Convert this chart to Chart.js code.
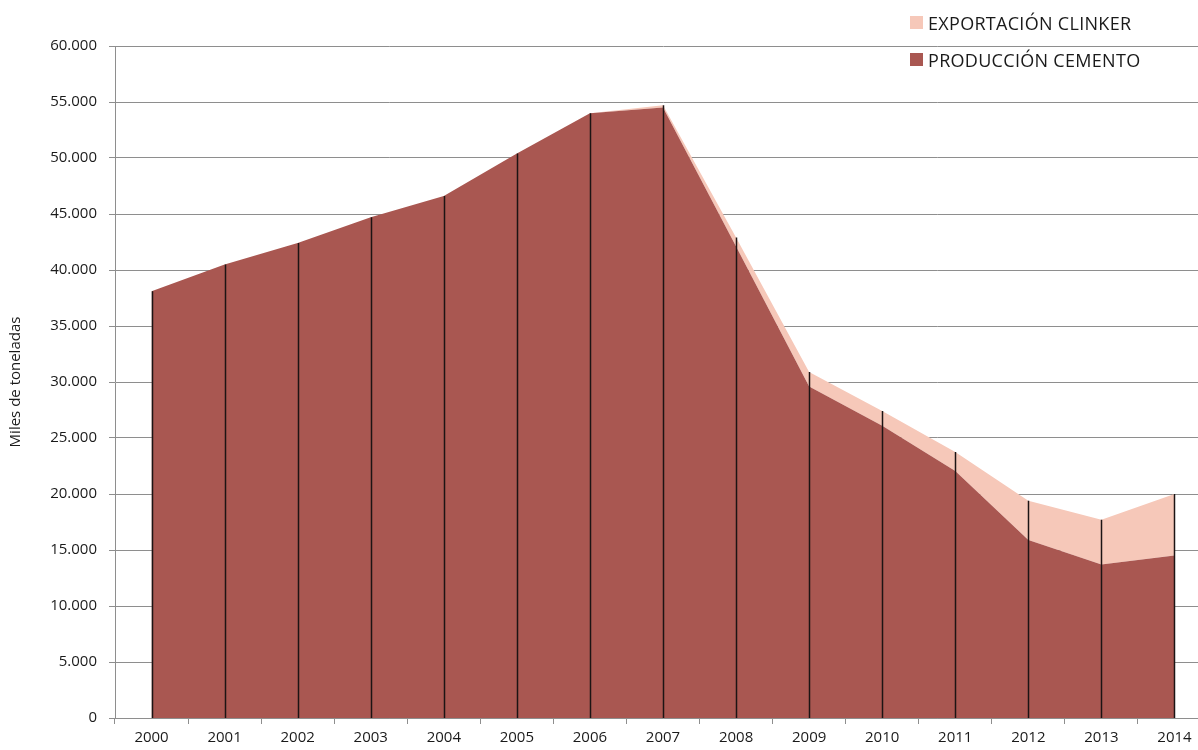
<!DOCTYPE html>
<html>
<head>
<meta charset="utf-8">
<script src="https://cdn.jsdelivr.net/npm/chart.js@4"></script>
<style>
  html, body { margin: 0; padding: 0; background: #fff; overflow: hidden; }
  #wrap { position: relative; width: 1212px; height: 750px; }
  #legend { position: absolute; left: 910px; top: 4px; font-family: "Open Sans", sans-serif; font-size: 18px; color: #1a1a1a; letter-spacing: 0.3px; }
  .item { display: flex; align-items: center; height: 37px; }
  .box { width: 13px; height: 13px; margin-right: 5px; }
</style>
</head>
<body>
<div id="wrap">
  <canvas id="chart" width="1212" height="750"></canvas>
  <div id="legend">
    <div class="item"><span class="box" style="background:#f6c8b9"></span>EXPORTACIÓN CLINKER</div>
    <div class="item"><span class="box" style="background:#a95751"></span>PRODUCCIÓN CEMENTO</div>
  </div>
</div>
<script>
// ===== DATA =====
const years = ['2000', '2001', '2002', '2003', '2004', '2005', '2006', '2007',
               '2008', '2009', '2010', '2011', '2012', '2013', '2014'];
// miles de toneladas
const produccionCemento = [38100, 40500, 42400, 44700, 46600, 50400, 54000, 54500,
                           42100, 29600, 26100, 22050, 15900, 13700, 14500];
const exportacionClinker = [0, 0, 0, 0, 0, 0, 0, 200,
                            800, 1300, 1300, 1700, 3500, 4000, 5500];
const yTicks = [0, 5000, 10000, 15000, 20000, 25000, 30000, 35000, 40000, 45000, 50000, 55000, 60000];

const FONT = '"Open Sans", sans-serif';
const GRID = '#8e8e8e';

// vertical drop lines from stacked total down to zero
const dropLines = {
    id: 'dropLines',
    afterDatasetsDraw(chart) {
        const ctx = chart.ctx;
        const top = chart.getDatasetMeta(1).data;
        const y0 = chart.scales.y.getPixelForValue(0);
        ctx.save();
        ctx.strokeStyle = '#1c1414';
        ctx.lineWidth = 1.5;
        top.forEach(pt => {
            ctx.beginPath();
            ctx.moveTo(Math.round(pt.x) + 0.5, pt.y);
            ctx.lineTo(Math.round(pt.x) + 0.5, y0);
            ctx.stroke();
        });
        ctx.restore();
    }
};

new Chart(document.getElementById('chart'), {
    type: 'line',
    data: {
        labels: years,
        datasets: [{
            label: 'PRODUCCIÓN CEMENTO',
            data: produccionCemento,
            backgroundColor: '#a95751',
            borderWidth: 0,
            pointRadius: 0,
            fill: 'origin',
            tension: 0
        }, {
            label: 'EXPORTACIÓN CLINKER',
            data: exportacionClinker,
            backgroundColor: '#f6c8b9',
            borderWidth: 0,
            pointRadius: 0,
            fill: '-1',
            tension: 0
        }]
    },
    options: {
        responsive: false,
        animation: false,
        layout: { padding: { top: 46, right: 1, left: 0, bottom: 0 } },
        plugins: { legend: { display: false }, tooltip: { enabled: false } },
        scales: {
            x: {
                offset: true,
                grid: { drawOnChartArea: false, drawTicks: true, tickLength: 6, color: GRID, offset: true },
                border: { color: GRID, width: 1 },
                ticks: { color: '#1a1a1a', font: { family: FONT, size: 15 }, padding: 5, maxRotation: 0 },
                afterFit(scale) { scale.height = 32; }
            },
            y: {
                stacked: true,
                min: 0,
                max: 60000,
                afterBuildTicks(scale) { scale.ticks = yTicks.map(v => ({ value: v })); },
                grid: { color: GRID, lineWidth: 1, tickLength: 6 },
                border: { color: GRID, width: 1 },
                ticks: {
                    color: '#1a1a1a',
                    font: { family: FONT, size: 15 },
                    padding: 12,
                    callback: v => v.toLocaleString('de-DE')
                },
                title: {
                    display: true,
                    text: 'Miles de toneladas',
                    color: '#1a1a1a',
                    font: { family: FONT, size: 15 },
                    padding: { top: 7, bottom: 0 }
                },
                afterFit(scale) { scale.width = 115; }
            }
        }
    },
    plugins: [dropLines]
});
</script>
</body>
</html>
